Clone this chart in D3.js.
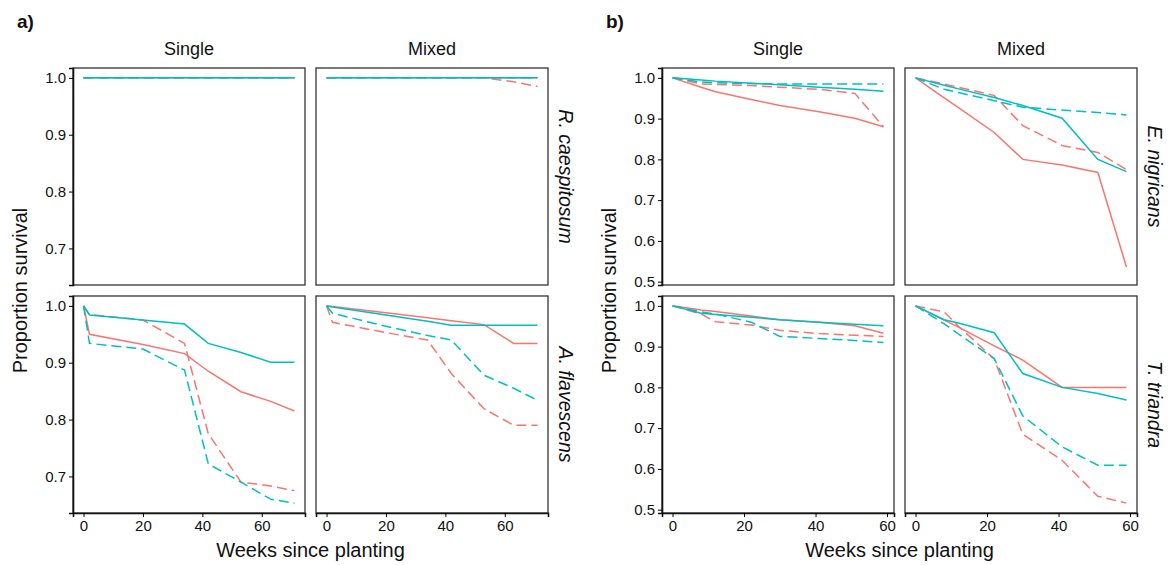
<!DOCTYPE html>
<html>
<head>
<meta charset="utf-8">
<script src="https://cdn.jsdelivr.net/npm/d3@7"></script>
<style>
  body { margin: 0; background: #fff; }
  text { font-family: "Liberation Sans", Arial, sans-serif; fill: #111; }
</style>
</head>
<body>
<svg id="chart" width="1170" height="565"></svg>
<script>
// survey weeks for each half of the figure
var weeksA = [0, 2, 20, 34, 42, 53, 63, 71];
var weeksB = [0, 8, 12, 22, 30, 41, 51, 59];

// each panel: [red solid, red dashed, cyan solid, cyan dashed]
var rcaesSingle = [
  [1, 1, 1, 1, 1, 1, 1, 1],
  [1, 1, 1, 1, 1, 1, 1, 1],
  [1, 1, 1, 1, 1, 1, 1, 1],
  [1, 1, 1, 1, 1, 1, 1, 1]
];
var rcaesMixed = [
  [1, 1, 1, 1, 1, 1, 1, 1],
  [1, 1, 1, 1, 1, 1, 0.993, 0.985],
  [1, 1, 1, 1, 1, 1, 1, 1],
  [1, 1, 1, 1, 1, 1, 1, 1]
];
var aflavSingle = [
  [1, 0.95, 0.932, 0.916, 0.885, 0.849, 0.832, 0.815],
  [1, 0.985, 0.975, 0.934, 0.775, 0.69, 0.683, 0.675],
  [1, 0.984, 0.975, 0.968, 0.934, 0.918, 0.901, 0.901],
  [1, 0.934, 0.924, 0.887, 0.722, 0.69, 0.66, 0.653]
];
var aflavMixed = [
  [1, 0.999, 0.988, 0.979, 0.974, 0.967, 0.934, 0.934],
  [1, 0.971, 0.953, 0.94, 0.881, 0.819, 0.79, 0.79],
  [1, 0.998, 0.984, 0.973, 0.966, 0.966, 0.966, 0.966],
  [1, 0.987, 0.964, 0.948, 0.94, 0.878, 0.855, 0.834]
];
var enigSingle = [
  [1, 0.977, 0.966, 0.947, 0.932, 0.917, 0.901, 0.88],
  [1, 0.985, 0.984, 0.981, 0.977, 0.972, 0.962, 0.88],
  [1, 0.995, 0.992, 0.987, 0.983, 0.977, 0.972, 0.967],
  [1, 0.99, 0.988, 0.986, 0.985, 0.985, 0.985, 0.985]
];
var enigMixed = [
  [1, 0.951, 0.927, 0.866, 0.8, 0.786, 0.768, 0.536],
  [1, 0.985, 0.977, 0.957, 0.883, 0.834, 0.817, 0.775],
  [1, 0.982, 0.973, 0.952, 0.932, 0.901, 0.8, 0.77],
  [1, 0.972, 0.964, 0.944, 0.928, 0.921, 0.915, 0.909]
];
var ttriSingle = [
  [1, 0.99, 0.986, 0.975, 0.966, 0.96, 0.951, 0.933],
  [1, 0.98, 0.961, 0.953, 0.94, 0.932, 0.928, 0.925],
  [1, 0.982, 0.979, 0.972, 0.966, 0.96, 0.955, 0.951],
  [1, 0.985, 0.98, 0.96, 0.925, 0.92, 0.915, 0.91]
];
var ttriMixed = [
  [1, 0.965, 0.948, 0.902, 0.867, 0.8, 0.8, 0.8],
  [1, 0.985, 0.95, 0.87, 0.685, 0.621, 0.533, 0.516],
  [1, 0.966, 0.958, 0.934, 0.834, 0.8, 0.785, 0.769],
  [1, 0.956, 0.931, 0.871, 0.73, 0.654, 0.609, 0.609]
];

var columns = ["Single", "Mixed"];
var xTicks = [0, 20, 40, 60];
var yTicksA = [0.7, 0.8, 0.9, 1.0];
var yTicksB = [0.5, 0.6, 0.7, 0.8, 0.9, 1.0];

var lineColor = ["#F8766D", "#F8766D", "#00BFC4", "#00BFC4"];
var lineDash = [null, "10,5", null, "10,5"];

var pw = 232, ph = 217, gap = 11;
var rowTop = [68, 296];

var figs = [
  { tag: "a)", left: 73, weeks: weeksA, yTicks: yTicksA,
    rows: [{ name: "R. caespitosum", panels: [rcaesSingle, rcaesMixed] },
           { name: "A. flavescens", panels: [aflavSingle, aflavMixed] }] },
  { tag: "b)", left: 662, weeks: weeksB, yTicks: yTicksB,
    rows: [{ name: "E. nigricans", panels: [enigSingle, enigMixed] },
           { name: "T. triandra", panels: [ttriSingle, ttriMixed] }] }
];

var svg = d3.select("#chart");

// ggplot style 5% padding on both ends
function expand(lo, hi) {
  var r = hi - lo;
  return [lo - 0.05 * r, hi + 0.05 * r];
}

figs.forEach(function(f) {
  var allVals = [];
  f.rows.forEach(function(r) { r.panels.forEach(function(p) { p.forEach(function(s) { allVals = allVals.concat(s); }); }); });

  var x = d3.scaleLinear().domain(expand(0, d3.max(f.weeks))).range([0, pw]);
  var y = d3.scaleLinear().domain(expand(d3.min(allVals), d3.max(allVals))).range([ph, 0]);

  var line = d3.line()
    .x(function(d, i) { return x(f.weeks[i]); })
    .y(function(d) { return y(d); });

  svg.append("text")
    .attr("x", f.left - 56).attr("y", 28)
    .style("font-size", "19px").style("font-weight", "bold")
    .text(f.tag);

  columns.forEach(function(c, ci) {
    svg.append("text")
      .attr("x", f.left + ci * (pw + gap) + pw / 2).attr("y", 55)
      .attr("text-anchor", "middle")
      .style("font-size", "18px")
      .text(c);
  });

  f.rows.forEach(function(r, ri) {
    r.panels.forEach(function(p, ci) {
      var g = svg.append("g")
        .attr("transform", "translate(" + (f.left + ci * (pw + gap)) + "," + rowTop[ri] + ")");

      g.append("rect")
        .attr("width", pw).attr("height", ph)
        .attr("fill", "none").attr("stroke", "#333").attr("stroke-width", 1.3);

      p.forEach(function(s, si) {
        g.append("path")
          .datum(s)
          .attr("d", line)
          .attr("fill", "none")
          .attr("stroke", lineColor[si])
          .attr("stroke-width", 1.5)
          .attr("stroke-dasharray", lineDash[si]);
      });

      if (ci == 0) {
        var ya = g.append("g")
          .call(d3.axisLeft(y).tickValues(f.yTicks).tickFormat(d3.format(".1f")).tickSize(4).tickPadding(3));
        ya.select(".domain").attr("stroke", "#111").attr("stroke-width", 1.6);
        ya.selectAll("text").style("font-size", "15px").attr("fill", "#111");
      }
      if (ri == 1) {
        var xa = g.append("g")
          .attr("transform", "translate(0," + ph + ")")
          .call(d3.axisBottom(x).tickValues(xTicks).tickSize(4).tickPadding(3));
        xa.select(".domain").attr("stroke", "#111").attr("stroke-width", 1.6);
        xa.selectAll("text").style("font-size", "15px").attr("fill", "#111");
      }
    });

    var sx = f.left + 2 * pw + gap + 18;
    var sy = rowTop[ri] + ph / 2;
    svg.append("text")
      .attr("transform", "translate(" + sx + "," + sy + ") rotate(90)")
      .attr("text-anchor", "middle")
      .attr("dominant-baseline", "central")
      .style("font-size", "19.5px").style("font-style", "italic")
      .text(r.name);
  });

  svg.append("text")
    .attr("transform", "translate(" + (f.left - 46) + "," + (rowTop[0] + (rowTop[1] + ph - rowTop[0]) / 2) + ") rotate(-90)")
    .attr("text-anchor", "middle")
    .style("font-size", "20px")
    .text("Proportion survival");

  svg.append("text")
    .attr("x", f.left + pw + gap / 2).attr("y", 557)
    .attr("text-anchor", "middle")
    .style("font-size", "20px")
    .text("Weeks since planting");
});
</script>
</body>
</html>
